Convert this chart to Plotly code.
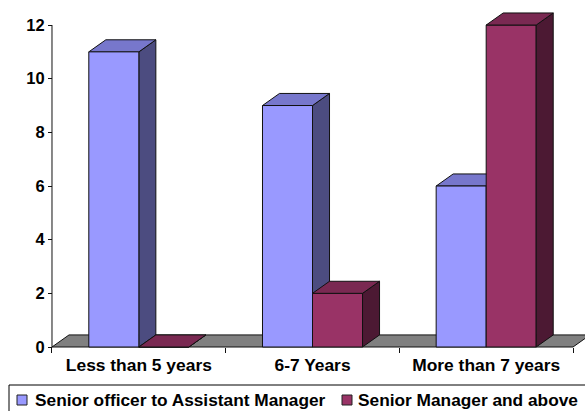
import plotly.graph_objects as go

# ---- data ----
categories = ["Less than 5 years", "6-7 Years", "More than 7 years"]
senior_officer = [11, 9, 6]
senior_manager = [0, 2, 12]
series_names = ["Senior officer to Assistant Manager", "Senior Manager and above"]
y_ticks = [0, 2, 4, 6, 8, 10, 12]

# ---- styles ----
FRONT = ["#9999FF", "#993366"]
TOP = ["#7777CC", "#7A2952"]
SIDE = ["#4C4C80", "#4C1933"]
FLOOR = "#808080"
EDGE = "#111111"
FONT = "Liberation Sans, Arial, sans-serif"

W = 0.288          # bar width (category units)
DX = 0.098         # depth offset x (category units)
DY = 0.45          # depth offset y (value units)
X_RANGE = [-0.523, 2.569]
Y_RANGE = [-0.149, 12.635]

ML, MR, MT, MB = 48, 0, 8, 60
FIG_W, FIG_H = 585, 411
plot_w = FIG_W - ML - MR
plot_h = FIG_H - MT - MB


def px_x(p):
    return (p - ML) / plot_w


def px_y(p):
    return (FIG_H - MB - p) / plot_h


fig = go.Figure()
n = len(categories)

# floor (base layer)
fx = [-0.5, n - 0.5, n - 0.5 + DX, -0.5 + DX, -0.5]
fy = [0, 0, DY, DY, 0]
fig.add_trace(go.Scatter(x=fx, y=fy, mode="lines", fill="toself", fillcolor=FLOOR,
                         line=dict(color=EDGE, width=1), showlegend=False, hoverinfo="skip",
                         xaxis="x", yaxis="y"))


def faces(values, offset):
    tx, ty, sx, sy = [], [], [], []
    for i, v in enumerate(values):
        x0 = i + offset
        x1 = x0 + W
        tx += [x0, x1, x1 + DX, x0 + DX, x0, None]
        ty += [v, v, v + DY, v + DY, v, None]
        sx += [x1, x1, x1 + DX, x1 + DX, x1, None]
        sy += [0, v, v + DY, DY, 0, None]
    return tx, ty, sx, sy


all_series = [senior_officer, senior_manager]
offsets = [-W, 0.0]

# blue top/side in base layer (so red fronts cover them)
tx, ty, sx, sy = faces(senior_officer, offsets[0])
fig.add_trace(go.Scatter(x=sx, y=sy, mode="lines", fill="toself", fillcolor=SIDE[0],
                         line=dict(color=EDGE, width=1), showlegend=False, hoverinfo="skip",
                         xaxis="x", yaxis="y"))
fig.add_trace(go.Scatter(x=tx, y=ty, mode="lines", fill="toself", fillcolor=TOP[0],
                         line=dict(color=EDGE, width=1), showlegend=False, hoverinfo="skip",
                         xaxis="x", yaxis="y"))

# y axis line
fig.add_trace(go.Scatter(x=[-0.5, -0.5], y=[0, max(y_ticks)], mode="lines",
                         line=dict(color=EDGE, width=1), showlegend=False, hoverinfo="skip",
                         xaxis="x", yaxis="y"))

# fronts as bars (overlay layer)
for k, vals in enumerate(all_series):
    fig.add_trace(go.Bar(x=list(range(n)), y=vals, width=W, offset=offsets[k],
                         name=series_names[k],
                         marker=dict(color=FRONT[k], line=dict(color=EDGE, width=1)),
                         showlegend=False, xaxis="x2", yaxis="y2"))

# red top/side in overlay layer
tx, ty, sx, sy = faces(senior_manager, offsets[1])
fig.add_trace(go.Scatter(x=sx, y=sy, mode="lines", fill="toself", fillcolor=SIDE[1],
                         line=dict(color=EDGE, width=1), showlegend=False, hoverinfo="skip",
                         xaxis="x2", yaxis="y2"))
fig.add_trace(go.Scatter(x=tx, y=ty, mode="lines", fill="toself", fillcolor=TOP[1],
                         line=dict(color=EDGE, width=1), showlegend=False, hoverinfo="skip",
                         xaxis="x2", yaxis="y2"))

# ---- manual legend (box, swatches, labels) ----
shapes = [dict(type="rect", xref="paper", yref="paper",
               x0=px_x(9), x1=px_x(592), y0=px_y(385), y1=px_y(418),
               line=dict(color="black", width=1), fillcolor="white", layer="below")]
swatch_left = [17, 342]
text_left = [33, 356]
annotations = []
for k in range(len(series_names)):
    shapes.append(dict(type="rect", xref="paper", yref="paper",
                       x0=px_x(swatch_left[k]), x1=px_x(swatch_left[k] + 10),
                       y0=px_y(405), y1=px_y(395),
                       line=dict(color="#222222", width=1), fillcolor=FRONT[k]))
    annotations.append(dict(xref="paper", yref="paper", x=px_x(text_left[k]), y=px_y(400),
                            xanchor="left", yanchor="middle", showarrow=False,
                            text=series_names[k],
                            font=dict(size=17.3, family=FONT, color="black", weight="bold")))

fig.update_layout(
    width=FIG_W, height=FIG_H,
    margin=dict(l=ML, r=MR, t=MT, b=MB),
    paper_bgcolor="white", plot_bgcolor="white",
    font=dict(family=FONT, size=17, color="black", weight="bold"),
    barmode="overlay",
    showlegend=False,
    shapes=shapes,
    annotations=annotations,
    xaxis=dict(range=X_RANGE, anchor="free", position=4 / plot_h,
               tickmode="array", tickvals=list(range(n)), ticktext=categories,
               ticks="", ticklabelstandoff=6, showgrid=False, zeroline=False, showline=False,
               tickfont=dict(size=17.4, family=FONT, weight="bold"),
               minor=dict(tickmode="array", tickvals=[i - 0.5 for i in range(n + 1)],
                          ticks="outside", ticklen=5, tickcolor=EDGE, tickwidth=1, showgrid=False)),
    yaxis=dict(range=Y_RANGE, anchor="free", position=4 / plot_w,
               tickmode="array", tickvals=y_ticks, ticks="outside", ticklen=4,
               tickcolor=EDGE, showgrid=False, zeroline=False, showline=False,
               tickfont=dict(size=16.5, family=FONT, weight="bold")),
    xaxis2=dict(range=X_RANGE, overlaying="x", visible=False),
    yaxis2=dict(range=Y_RANGE, overlaying="y", visible=False),
)

fig.write_html("out.html")
